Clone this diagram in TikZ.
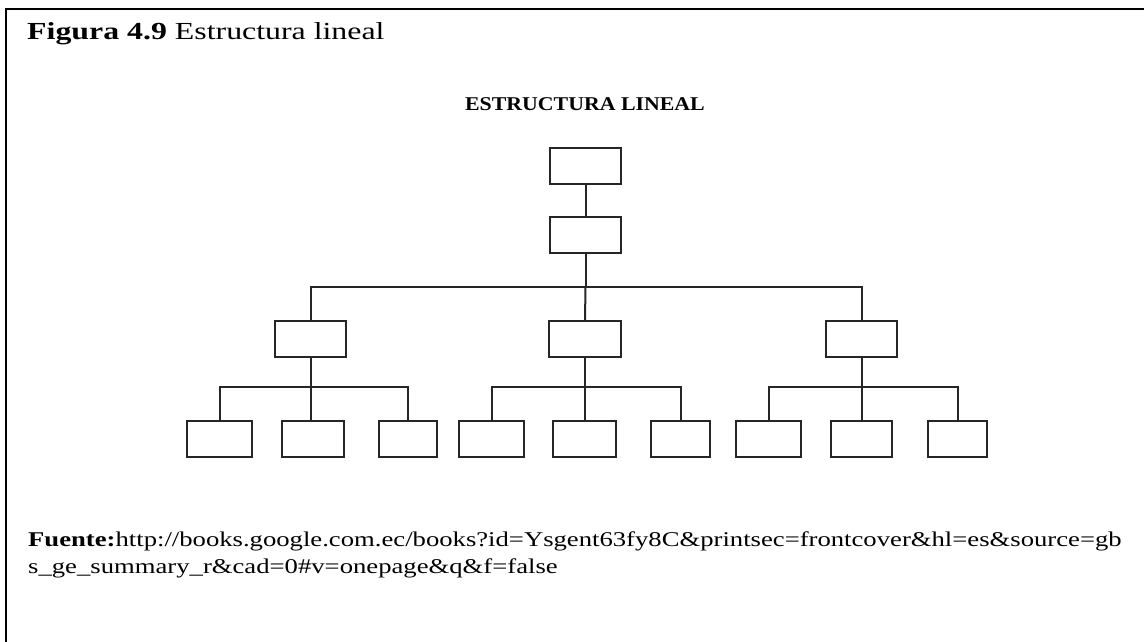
\documentclass[tikz,border=0pt]{standalone}
\usepackage{fontspec}
\setmainfont{Liberation Serif}
\newfontfamily\widefont[FakeStretch=1.27]{Liberation Serif}
\newfontfamily\titlefont[FakeStretch=1.3]{Liberation Serif}
\newfontfamily\headfont[FakeStretch=1.12]{Liberation Serif}
\begin{document}
\begin{tikzpicture}[x=1pt,y=-1pt,
  box/.style={draw=black!85,line width=2pt,minimum height=36pt,inner sep=0pt},
  conn/.style={draw=black!85,line width=2pt},
  frameline/.style={draw=black,line width=2.4pt}]
\fill[white] (0,0) rectangle (1144,641);
\useasboundingbox (0,0) rectangle (1144,641);
\draw[frameline] (1146,9) -- (6,9) -- (6,643);
\node[anchor=base west,inner sep=0pt,font=\titlefont\fontsize{24.5}{29}\selectfont] (title) at (27,39) {\textbf{Figura 4.9} Estructura lineal};
\node[inner sep=0pt,font=\headfont\fontsize{19.5}{23}\selectfont\bfseries] (head) at (585,104) {ESTRUCTURA LINEAL};
% boxes
\node[box,minimum width=71pt] (r) at (585.5,165.5) {};
\node[box,minimum width=71pt] (s) at (585.5,235) {};
\node[box,minimum width=71pt] (m1) at (310.5,339) {};
\node[box,minimum width=72pt] (m2) at (585,339) {};
\node[box,minimum width=71pt] (m3) at (861.5,339) {};
\node[box,minimum width=65pt] (b1) at (219.5,439) {};
\node[box,minimum width=62pt] (b2) at (313,439) {};
\node[box,minimum width=58pt] (b3) at (408,439) {};
\node[box,minimum width=65pt] (b4) at (491.5,439) {};
\node[box,minimum width=63pt] (b5) at (584.5,439) {};
\node[box,minimum width=59pt] (b6) at (680.5,439) {};
\node[box,minimum width=65pt] (b7) at (768.5,439) {};
\node[box,minimum width=61pt] (b8) at (861.5,439) {};
\node[box,minimum width=59pt] (b9) at (957.5,439) {};
% junctions
\coordinate (j0) at (585.5,287);
\coordinate (j1) at (310.5,387);
\coordinate (j2) at (585,387);
\coordinate (j3) at (861.5,387);
% connectors
\draw[conn] (r.south) -- (s.north);
\draw[conn] (s.south) -- (j0);
\draw[conn] (j0) -| (m1.north);
\draw[conn] (j0) -- (m2.north);
\draw[conn] (j0) -| (m3.north);
\draw[conn] (m1.south) -- (j1);
\draw[conn] (j1) -| (b1.north);
\draw[conn] (j1) -- (b2.north -| j1);
\draw[conn] (j1) -| (b3.north);
\draw[conn] (m2.south) -- (j2);
\draw[conn] (j2) -| (b4.north);
\draw[conn] (j2) -- (b5.north -| j2);
\draw[conn] (j2) -| (b6.north);
\draw[conn] (m3.south) -- (j3);
\draw[conn] (j3) -| (b7.north);
\draw[conn] (j3) -- (b8.north);
\draw[conn] (j3) -| (b9.north);
% source
\node[anchor=base west,inner sep=0pt,font=\widefont\fontsize{21}{25}\selectfont] (src1) at (28,546) {\textbf{Fuente:}http://books.google.com.ec/books?id=Ysgent63fy8C\&printsec=frontcover\&hl=es\&source=gb};
\node[anchor=base west,inner sep=0pt,font=\widefont\fontsize{21}{25}\selectfont] (src2) at (28,573) {s\_ge\_summary\_r\&cad=0\#v=onepage\&q\&f=false};
\end{tikzpicture}
\end{document}
